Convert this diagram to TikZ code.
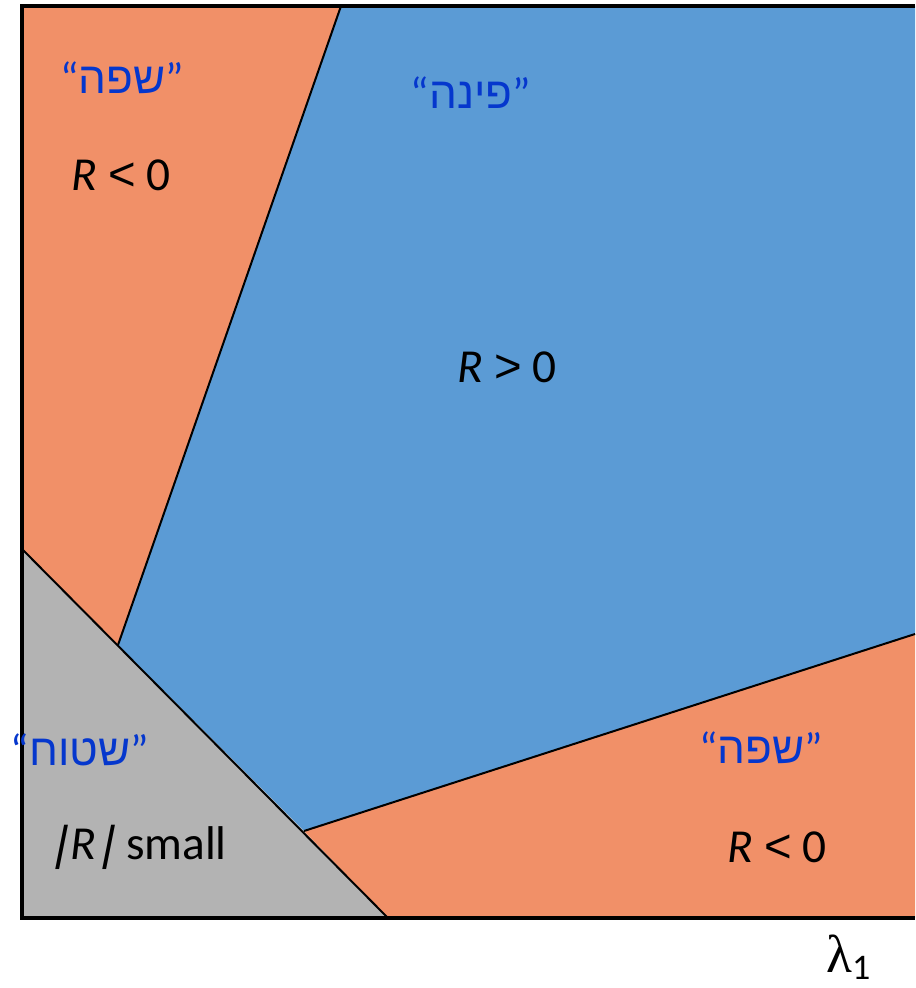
\documentclass[tikz,border=0pt]{standalone}
\usepackage{fontspec}
\setmainfont{Carlito}
\newfontfamily\hebfont[Script=Hebrew]{Liberation Sans}
\newfontfamily\lamfont{Liberation Serif}
\newfontfamily\symfont{Liberation Sans}
\newfontfamily\barfont[FakeSlant=0.2]{Liberation Sans}
\TeXXeTstate=1
\definecolor{ridge}{RGB}{241,144,104}
\definecolor{corner}{RGB}{91,155,213}
\definecolor{flat}{RGB}{179,179,179}
\definecolor{heb}{RGB}{5,55,205}
\tikzset{
  region/.style={draw=none},
  edge/.style={line width=1.5pt,line join=round},
  frame/.style={line width=2.4pt,line join=miter},
  heblabel/.style={text=heb,font=\fontsize{33}{36}\selectfont,inner sep=0pt,anchor=center},
  rlabel/.style={text=black,font=\fontsize{35.5}{38}\selectfont,inner sep=0pt,anchor=center}
}
\begin{document}
\begin{tikzpicture}[x=0.75pt,y=-0.75pt]
\useasboundingbox (0,0) rectangle (915,988);
% vertices
\coordinate (tl) at (22,6);
\coordinate (tm) at (341,6);
\coordinate (tr) at (915,6);
\coordinate (rm) at (915,634);
\coordinate (br) at (915,918);
\coordinate (bm) at (388,918);
\coordinate (bl) at (22,918);
\coordinate (lm) at (22,549);
\coordinate (p1) at (118,645);
\coordinate (p2) at (304,831);
% regions
\fill[ridge,region] (tl) -- (tm) -- (p1) -- (lm) -- cycle;
\fill[corner,region] (tm) -- (tr) -- (rm) -- (p2) -- (p1) -- cycle;
\fill[flat,region] (lm) -- (p1) -- (p2) -- (bm) -- (bl) -- cycle;
\fill[ridge,region] (p2) -- (rm) -- (br) -- (bm) -- cycle;
% boundaries
\draw[edge] (tm) -- (p1);
\draw[edge] (lm) -- (bm);
\draw[edge] (p2) -- (rm);
\draw[frame] (tr) -- (tl) -- (bl) -- (br);
% labels
\node[heblabel] (h1) at (122,78) {“{\hebfont\beginR שפה\endR}”};
\node[rlabel] (r1) at (121,175) {\textit{R} {\symfont<} 0};
\node[heblabel] (h2) at (471,93) {“{\hebfont\beginR פינה\endR}”};
\node[rlabel] (r2) at (507,367) {\textit{R} {\symfont>} 0};
\node[heblabel] (h3) at (80,750) {“{\hebfont\beginR שטוח\endR}”};
\node[rlabel] (r3) at (140,847) {{\barfont|}\kern4pt\textit{R}\kern3pt{\barfont|}\kern2pt{} small};
\node[heblabel] (h4) at (761,748) {“{\hebfont\beginR שפה\endR}”};
\node[rlabel] (r4) at (777,847) {\textit{R} {\symfont<} 0};
\node[inner sep=0pt,anchor=base west] (lam) at (826,972) {{\lamfont\fontsize{40}{42}\selectfont λ}{\fontsize{27}{28}\selectfont\raisebox{-0.22em}{1}}};
\end{tikzpicture}
\end{document}
